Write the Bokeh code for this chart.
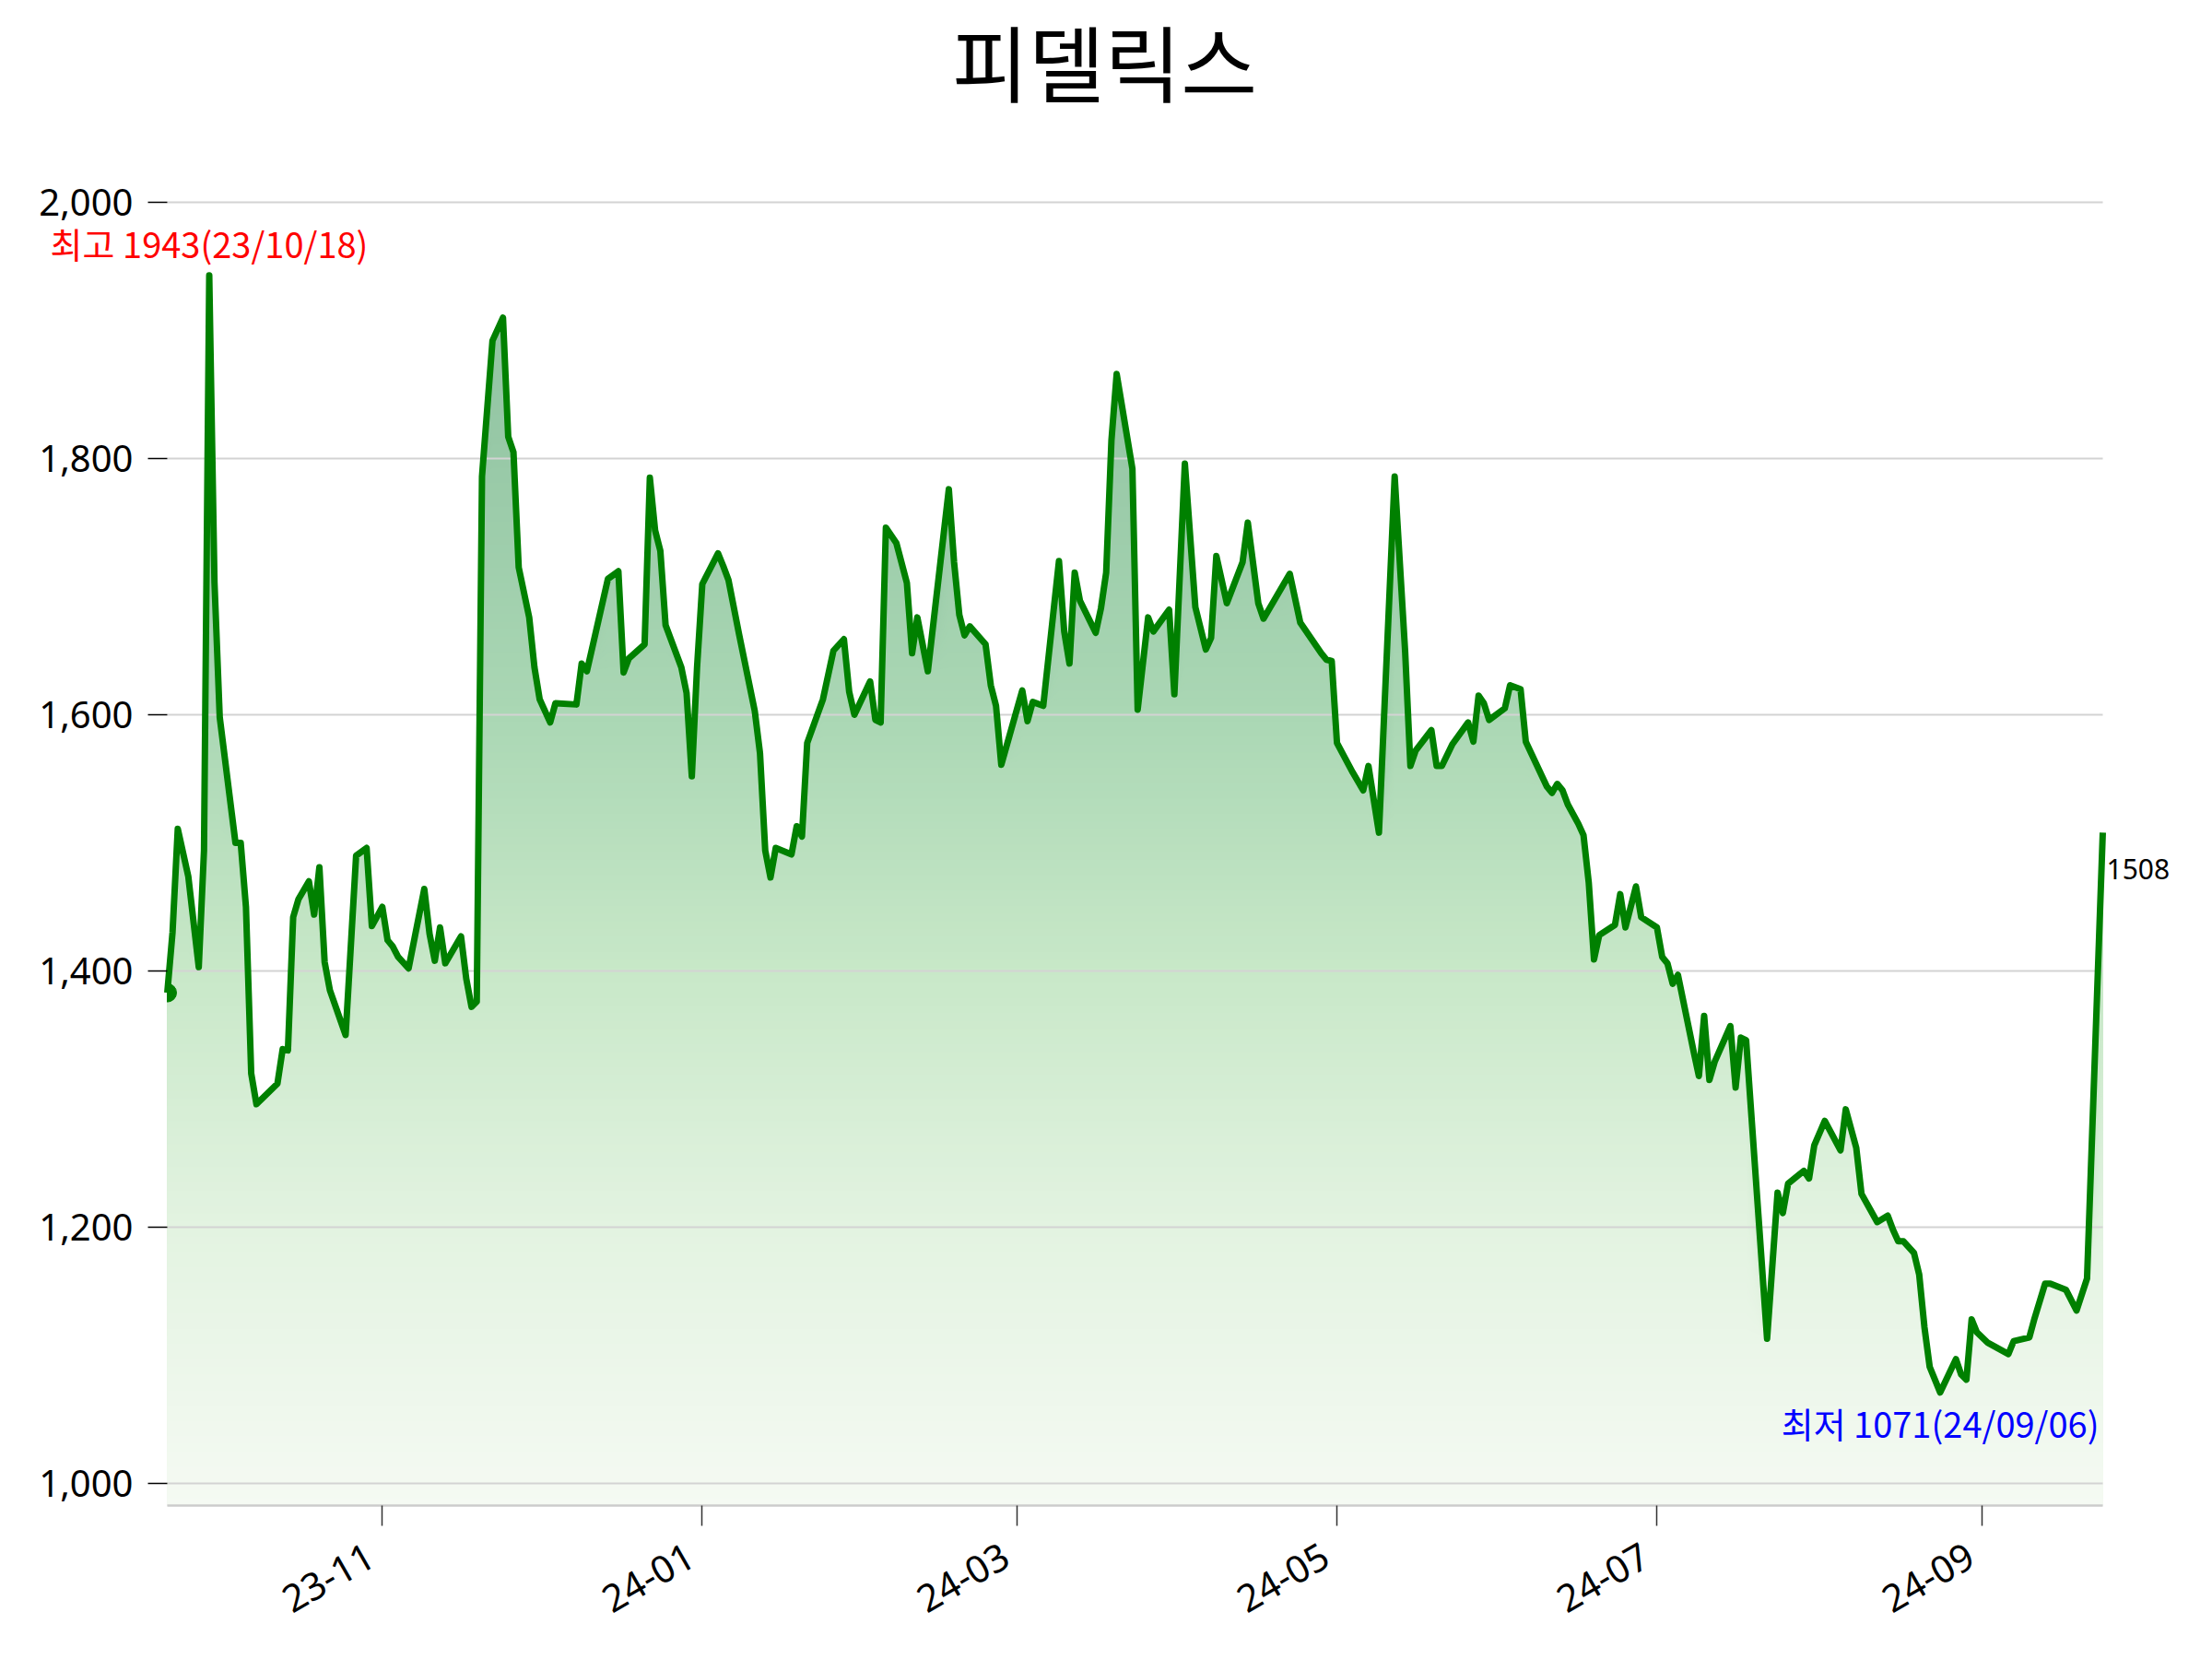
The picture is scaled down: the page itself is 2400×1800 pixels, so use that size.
import math
import numpy as np
import pandas as pd
from bokeh.plotting import figure
from bokeh.models import (Range1d, FixedTicker, NumeralTickFormatter, Label,
                          DatetimeTickFormatter)
from bokeh.core.properties import value
from bokeh.embed import file_html
from bokeh.resources import INLINE

# ---------------- data ----------------
title_text = "피델릭스"

dates = [
    "2023-09-21", "2023-09-22", "2023-09-23", "2023-09-25", "2023-09-27", "2023-09-28",
    "2023-09-29", "2023-09-30", "2023-10-01", "2023-10-04", "2023-10-05", "2023-10-06",
    "2023-10-07", "2023-10-08", "2023-10-12", "2023-10-13", "2023-10-14", "2023-10-15",
    "2023-10-16", "2023-10-18", "2023-10-19", "2023-10-20", "2023-10-21", "2023-10-22",
    "2023-10-25", "2023-10-27", "2023-10-29", "2023-10-30", "2023-11-01", "2023-11-02",
    "2023-11-03", "2023-11-04", "2023-11-06", "2023-11-09", "2023-11-10", "2023-11-11",
    "2023-11-12", "2023-11-13", "2023-11-16", "2023-11-17", "2023-11-18", "2023-11-19",
    "2023-11-20", "2023-11-22", "2023-11-24", "2023-11-25", "2023-11-26", "2023-11-27",
    "2023-11-29", "2023-11-30", "2023-12-01", "2023-12-03", "2023-12-04", "2023-12-08",
    "2023-12-09", "2023-12-10", "2023-12-14", "2023-12-16", "2023-12-17", "2023-12-18",
    "2023-12-21", "2023-12-22", "2023-12-23", "2023-12-24", "2023-12-25", "2023-12-28",
    "2023-12-29", "2023-12-30", "2023-12-31", "2024-01-01", "2024-01-04", "2024-01-05",
    "2024-01-06", "2024-01-08", "2024-01-11", "2024-01-12", "2024-01-13", "2024-01-14",
    "2024-01-15", "2024-01-18", "2024-01-19", "2024-01-20", "2024-01-21", "2024-01-24",
    "2024-01-26", "2024-01-28", "2024-01-29", "2024-01-30", "2024-02-02", "2024-02-03",
    "2024-02-04", "2024-02-05", "2024-02-07", "2024-02-09", "2024-02-10", "2024-02-11",
    "2024-02-13", "2024-02-17", "2024-02-18", "2024-02-19", "2024-02-20", "2024-02-21",
    "2024-02-24", "2024-02-25", "2024-02-26", "2024-02-27", "2024-03-02", "2024-03-03",
    "2024-03-04", "2024-03-06", "2024-03-09", "2024-03-10", "2024-03-11", "2024-03-12",
    "2024-03-13", "2024-03-16", "2024-03-17", "2024-03-18", "2024-03-19", "2024-03-20",
    "2024-03-23", "2024-03-24", "2024-03-26", "2024-03-27", "2024-03-30", "2024-03-31",
    "2024-04-02", "2024-04-04", "2024-04-06", "2024-04-07", "2024-04-08", "2024-04-10",
    "2024-04-13", "2024-04-14", "2024-04-16", "2024-04-17", "2024-04-22", "2024-04-24",
    "2024-04-28", "2024-04-29", "2024-04-30", "2024-05-01", "2024-05-04", "2024-05-06",
    "2024-05-07", "2024-05-09", "2024-05-12", "2024-05-14", "2024-05-15", "2024-05-16",
    "2024-05-19", "2024-05-20", "2024-05-21", "2024-05-23", "2024-05-26", "2024-05-27",
    "2024-05-28", "2024-05-29", "2024-05-30", "2024-06-02", "2024-06-03", "2024-06-05",
    "2024-06-06", "2024-06-10", "2024-06-11", "2024-06-12", "2024-06-13", "2024-06-14",
    "2024-06-16", "2024-06-17", "2024-06-18", "2024-06-19", "2024-06-20", "2024-06-23",
    "2024-06-24", "2024-06-25", "2024-06-27", "2024-06-28", "2024-07-01", "2024-07-02",
    "2024-07-03", "2024-07-04", "2024-07-05", "2024-07-07", "2024-07-08", "2024-07-09",
    "2024-07-10", "2024-07-11", "2024-07-12", "2024-07-15", "2024-07-16", "2024-07-17",
    "2024-07-18", "2024-07-22", "2024-07-24", "2024-07-25", "2024-07-26", "2024-07-29",
    "2024-07-30", "2024-07-31", "2024-08-02", "2024-08-05", "2024-08-06", "2024-08-08",
    "2024-08-09", "2024-08-12", "2024-08-14", "2024-08-15", "2024-08-16", "2024-08-17",
    "2024-08-19", "2024-08-20", "2024-08-21", "2024-08-22", "2024-08-24", "2024-08-27",
    "2024-08-28", "2024-08-29", "2024-08-30", "2024-08-31", "2024-09-02", "2024-09-06",
    "2024-09-07", "2024-09-10", "2024-09-11", "2024-09-13", "2024-09-14", "2024-09-17",
    "2024-09-19", "2024-09-21", "2024-09-24",
]

prices = [
    1383, 1430, 1511, 1474, 1403, 1494,
    1943, 1703, 1598, 1500, 1500, 1450,
    1320, 1296, 1312, 1339, 1338, 1442,
    1456, 1470, 1444, 1481, 1407, 1385,
    1350, 1490, 1496, 1435, 1450, 1424,
    1419, 1411, 1402, 1464, 1429, 1408,
    1434, 1406, 1427, 1394, 1372, 1376,
    1786, 1892, 1910, 1817, 1805, 1715,
    1676, 1637, 1612, 1594, 1609, 1608,
    1640, 1634, 1706, 1712, 1633, 1644,
    1655, 1785, 1744, 1728, 1670, 1637,
    1617, 1552, 1637, 1702, 1726, 1716,
    1705, 1663, 1603, 1570, 1494, 1473,
    1496, 1491, 1513, 1505, 1578, 1612,
    1650, 1659, 1618, 1600, 1626, 1596,
    1594, 1746, 1734, 1703, 1648, 1676,
    1634, 1776, 1719, 1678, 1662, 1669,
    1655, 1623, 1607, 1561, 1619, 1595,
    1610, 1607, 1720, 1665, 1640, 1711,
    1689, 1664, 1683, 1711, 1814, 1866,
    1792, 1604, 1676, 1665, 1682, 1616,
    1796, 1684, 1651, 1660, 1724, 1687,
    1719, 1750, 1687, 1675, 1710, 1672,
    1648, 1643, 1642, 1578, 1555, 1541,
    1560, 1508, 1786, 1649, 1560, 1572,
    1588, 1560, 1560, 1577, 1594, 1579,
    1615, 1609, 1596, 1605, 1623, 1620,
    1579, 1544, 1539, 1546, 1541, 1530,
    1515, 1506, 1469, 1409, 1428, 1436,
    1460, 1434, 1466, 1442, 1434, 1411,
    1406, 1390, 1397, 1357, 1337, 1318,
    1365, 1315, 1329, 1357, 1309, 1348,
    1346, 1113, 1227, 1211, 1234, 1244,
    1238, 1264, 1283, 1260, 1292, 1262,
    1226, 1204, 1209, 1198, 1189, 1189,
    1180, 1163, 1122, 1091, 1071, 1097,
    1085, 1081, 1128, 1118, 1110, 1101,
    1111, 1114, 1129, 1156, 1156, 1151,
    1135, 1160, 1508,
]

tick_dates = ["2023-11-01", "2024-01-01", "2024-03-01", "2024-05-01", "2024-07-01", "2024-09-01"]
tick_labels = ["23-11", "24-01", "24-03", "24-05", "24-07", "24-09"]
y_ticks = [1000, 1200, 1400, 1600, 1800, 2000]

max_text = "최고 1943(23/10/18)"
min_text = "최저 1071(24/09/06)"

# ---------------- layout constants (pixels) ----------------
FIG_W, FIG_H = 2384, 1784
PLOT_L, PLOT_R = 181, 2281          # where the data x-extent sits
AXIS_Y = 1633                       # x axis line
PX_1000, PX_2000 = 1609.0, 219.0    # where y=1000 and y=2000 sit
FRAME_L, FRAME_R, FRAME_T, FRAME_B = 10, 2374, 8, 1780
TITLE_X, TITLE_Y = 1198, 64
XLAB_DX, XLAB_DY = -20, 38          # tick label anchor (top-right) from tick

EPOCH = pd.Timestamp("1970-01-01")


def to_ms(d):
    return float((pd.Timestamp(d) - EPOCH) // pd.Timedelta("1ms"))


x_ms = np.array([to_ms(d) for d in dates])
y = np.array(prices, dtype=float)

ppu = (PX_1000 - PX_2000) / 1000.0
Y_AX = 1000 - (AXIS_Y - PX_1000) / ppu          # value at the x axis line
Y0 = 1000 - (FRAME_B - PX_1000) / ppu
Y1 = 2000 + (PX_2000 - FRAME_T) / ppu
ppm = (PLOT_R - PLOT_L) / (x_ms[-1] - x_ms[0])
X0 = x_ms[0] - (PLOT_L - FRAME_L) / ppm
X1 = x_ms[-1] + (FRAME_R - PLOT_R) / ppm

p = figure(width=FIG_W, height=FIG_H, x_axis_type="datetime",
           x_range=Range1d(X0, X1), y_range=Range1d(Y0, Y1),
           output_backend="svg", toolbar_location=None,
           min_border_left=FRAME_L, min_border_right=FIG_W - FRAME_R,
           min_border_top=FRAME_T, min_border_bottom=FIG_H - FRAME_B)
p.outline_line_color = None
p.background_fill_color = "white"
p.border_fill_color = "white"

# ---------------- gradient fill under the line ----------------
grad_v = [981, 1200, 1400, 1600, 1800, 1950]
grad_r = [245, 227, 200, 170, 152, 143]
grad_g = [250, 243, 232, 215, 201, 194]
grad_b = [243, 225, 200, 180, 167, 160]

thresholds = np.arange(Y_AX + 6, 1954, 6)
for t in thresholds[::-1]:
    c = t - 3
    r = int(round(np.interp(c, grad_v, grad_r)))
    g = int(round(np.interp(c, grad_v, grad_g)))
    b = int(round(np.interp(c, grad_v, grad_b)))
    p.varea(x=x_ms, y1=Y_AX, y2=np.minimum(y, t),
            fill_color="#%02x%02x%02x" % (r, g, b), level="image")

# ---------------- horizontal grid over the data extent ----------------
p.xgrid.visible = False
p.ygrid.visible = False
n_t = len(y_ticks)
p.segment(x0=[x_ms[0]] * n_t, x1=[x_ms[-1]] * n_t, y0=y_ticks, y1=y_ticks,
          line_color="#d3d3d3", line_width=2, level="underlay")

# ---------------- line + start marker ----------------
p.line(x_ms, y, line_color="green", line_width=7, line_join="round")
p.wedge(x=x_ms[:1], y=y[:1], radius=10, radius_units="screen",
        start_angle=-math.pi / 2, end_angle=math.pi / 2, color="green")

# ---------------- axes ----------------
yax = p.yaxis[0]
yax.fixed_location = x_ms[0]
yax.ticker = FixedTicker(ticks=y_ticks)
yax.formatter = NumeralTickFormatter(format="0,0")
yax.axis_line_color = None
yax.major_tick_line_color = "black"
yax.major_tick_line_width = 1.5
yax.major_tick_out = 21
yax.major_tick_in = 0
yax.minor_tick_line_color = None
yax.major_label_text_font = "Noto Sans"
yax.major_label_text_font_size = "40px"
yax.major_label_text_color = "black"
yax.major_label_standoff = 16

tick_ms = [to_ms(d) for d in tick_dates]
xax = p.xaxis[0]
xax.fixed_location = Y_AX
xax.bounds = (x_ms[0], x_ms[-1])
xax.ticker = FixedTicker(ticks=tick_ms)
xax.formatter = DatetimeTickFormatter(days="%y-%m", months="%y-%m", years="%y-%m",
                                      hours="%y-%m", minutes="%y-%m")
xax.axis_line_color = "#cccccc"
xax.axis_line_width = 2.5
xax.major_tick_line_color = "#333333"
xax.major_tick_line_width = 1.5
xax.major_tick_out = 22
xax.major_tick_in = 0
xax.minor_tick_line_color = None
xax.major_label_text_color = None   # labels drawn below as rotated text

# rotated x tick labels (right/top anchored at the tick, like the reference)
p.text(x=tick_ms, y=[Y_AX] * len(tick_ms), text=tick_labels,
       angle=math.pi / 6, text_align="right", text_baseline="top",
       x_offset=XLAB_DX, y_offset=XLAB_DY,
       text_font=value("Noto Sans"), text_font_size=value("41px"),
       text_color="black")

# ---------------- annotations ----------------
imax = int(np.argmax(y))
imin = int(np.argmin(y))

p.add_layout(Label(x=TITLE_X - FRAME_L, y=FRAME_B - TITLE_Y,
                   x_units="screen", y_units="screen",
                   text=title_text, text_align="center", text_baseline="middle",
                   text_font="Noto Sans CJK KR", text_font_size="90px",
                   text_color="black"))

p.add_layout(Label(x=x_ms[imax], y=y[imax], text=max_text,
                   text_align="center", text_baseline="bottom", y_offset=8,
                   text_font="Noto Sans CJK KR", text_font_size="38px",
                   text_color="red"))

p.add_layout(Label(x=x_ms[imin], y=y[imin], text=min_text,
                   text_align="center", text_baseline="top", y_offset=-5,
                   text_font="Noto Sans CJK KR", text_font_size="38px",
                   text_color="blue"))

p.add_layout(Label(x=x_ms[-1], y=y[-1], text=str(int(y[-1])),
                   text_align="left", text_baseline="middle", x_offset=4, y_offset=-40,
                   text_font="Noto Sans", text_font_size="30px",
                   text_color="black"))

open("out.html", "w").write(file_html(p, INLINE))
